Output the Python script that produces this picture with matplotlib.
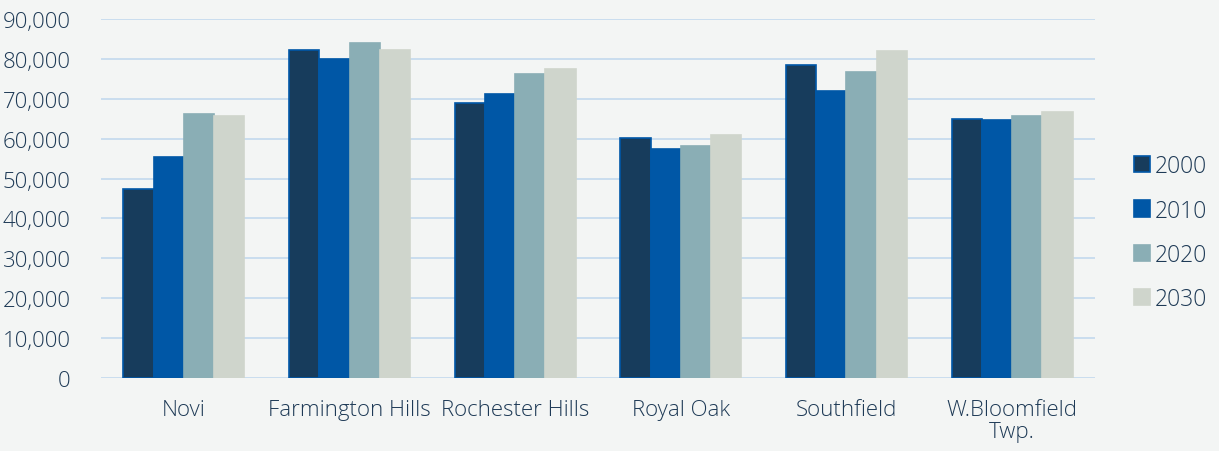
import matplotlib
matplotlib.use("Agg")
import matplotlib.pyplot as plt
import numpy as np
from matplotlib.ticker import FuncFormatter

categories = ["Novi", "Farmington Hills", "Rochester Hills", "Royal Oak", "Southfield", "W.Bloomfield\nTwp."]
series_names = ["2000", "2010", "2020", "2030"]
v2000 = [47500, 82300, 69000, 60200, 78400, 64900]
v2010 = [55500, 80000, 71200, 57400, 71900, 64800]
v2020 = [66200, 84100, 76300, 58100, 76700, 65800]
v2030 = [65600, 82300, 77400, 60800, 82100, 66800]
yticks = list(range(0, 90001, 10000))

fills = ["#173C5C", "#0057A6", "#8AAEB5", "#CFD5CC"]
edges = ["#0057A8", "#0057A6", "#8AAEB5", "#CFD5CC"]
bg = "#F3F5F4"
txt = "#1E3A56"
grid = "#C6DBEE"

plt.rcParams['font.family'] = ['Open Sans', 'DejaVu Sans']
plt.rcParams['font.weight'] = 'light'

fig = plt.figure(figsize=(12.19, 4.52), dpi=100, facecolor=bg)
ax = fig.add_axes([101/1219, 73/452, 994/1219, 359/452])
ax.set_facecolor(bg)

x = np.arange(len(categories))
bw = 0.1825
data = [v2000, v2010, v2020, v2030]
for i, (vals, name) in enumerate(zip(data, series_names)):
    ax.bar(x + (i - 1.5) * bw, vals, width=bw, color=fills[i], edgecolor=edges[i],
           linewidth=1.2, label=name, zorder=3)

ax.set_xlim(-0.5, len(categories) - 0.5)
ax.set_ylim(0, 90000)
ax.set_yticks(yticks)
ax.yaxis.set_major_formatter(FuncFormatter(lambda v, p: f"{int(v):,}"))
ax.grid(axis='y', color=grid, linewidth=1.3, zorder=0)
for s in ax.spines.values():
    s.set_visible(False)
ax.tick_params(axis='both', length=0, labelsize=16, labelcolor=txt)
ax.tick_params(axis='y', pad=22)
ax.tick_params(axis='x', pad=15)
ax.set_xticks(x)
ax.set_xticklabels(categories, linespacing=1.05)

leg = ax.legend(loc='center left', bbox_to_anchor=(1.03, 0.405), frameon=False,
                fontsize=16.5, handlelength=0.7, handleheight=0.7,
                handletextpad=0.2, labelspacing=0.88, borderaxespad=0)
for t in leg.get_texts():
    t.set_color(txt)

fig.savefig("out.png", dpi=100, facecolor=bg)
